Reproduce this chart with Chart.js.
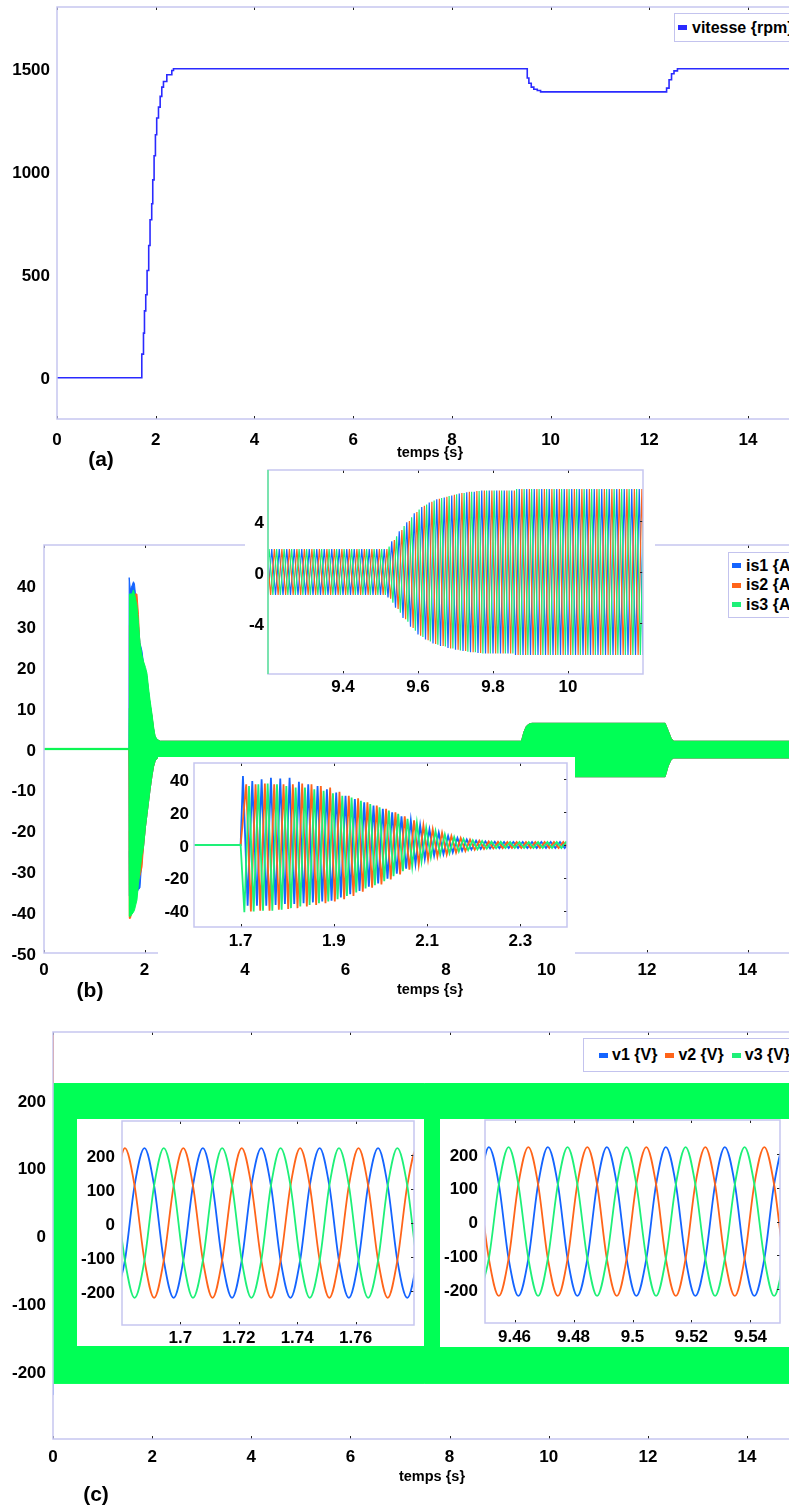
<!DOCTYPE html>
<html lang="fr">
<head>
<meta charset="utf-8">
<title>vitesse, courants, tensions</title>
<script src="https://cdn.jsdelivr.net/npm/chart.js@4.4.1/dist/chart.umd.min.js"></script>
<style>
  html, body { margin: 0; background: #fff; }
  #page { position: relative; width: 789px; height: 1506px; overflow: hidden;
          font-family: "Liberation Sans", Arial, Helvetica, sans-serif; color: #000; }
  #page canvas { position: absolute; }
  #page canvas.inset { background: #fff; }
  .txt { position: absolute; font-weight: bold; white-space: nowrap; line-height: 1; transform: translate(-50%, -50%); }
  .legend { position: absolute; box-sizing: border-box; background: #fff; border: 1px solid #c3c3ee;
            font-weight: bold; white-space: nowrap; }
  .legend span { display: inline-flex; align-items: center; }
  .legend i { display: inline-block; width: 9px; height: 5px; margin-right: 5px; }
  .legend.col span { display: flex; height: 19.5px; }
  .legend.row { display: flex; align-items: center; }
  .legend.row span { margin-right: 8px; }
  .legend.row i { margin-right: 4px; }
</style>
</head>
<body>
<div id="page">
  <canvas id="chart-a" width="810" height="470" style="left:0;top:0"></canvas>
  <canvas id="chart-b" width="810" height="530" style="left:0;top:470px"></canvas>
  <canvas id="chart-c" width="810" height="506" style="left:0;top:1000px"></canvas>
  <canvas id="chart-b1" class="inset" width="410" height="236" style="left:245px;top:464px"></canvas>
  <canvas id="chart-b2" class="inset" width="417" height="200" style="left:158px;top:757px"></canvas>
  <canvas id="chart-c1" class="inset" width="347" height="227" style="left:77px;top:1119px"></canvas>
  <canvas id="chart-c2" class="inset" width="352" height="228" style="left:440px;top:1119px"></canvas>

  <div class="legend" id="leg-a" style="left:674px;top:13px;width:140px;height:29px;padding-left:3px;font-size:16px;display:flex;align-items:center"></div>
  <div class="legend col" id="leg-b" style="left:728px;top:552px;width:90px;height:66px;padding:3px 0 0 3px;font-size:16px"></div>
  <div class="legend row" id="leg-c" style="left:583px;top:1038px;width:220px;height:34px;padding-left:15px;font-size:16px"></div>

  <div class="txt" style="left:430px;top:452px;font-size:14.5px">temps {s}</div>
  <div class="txt" style="left:430px;top:989px;font-size:14.5px">temps {s}</div>
  <div class="txt" style="left:432px;top:1476px;font-size:14.5px">temps {s}</div>
  <div class="txt" style="left:101px;top:458px;font-size:21px">(a)</div>
  <div class="txt" style="left:90px;top:989px;font-size:21px">(b)</div>
  <div class="txt" style="left:96px;top:1493px;font-size:21px">(c)</div>
</div>

<script>
// ---------- (a) vitesse ----------
const speedLabel = ['vitesse {rpm}'];
const speedTime = [0, 1.718, 1.752, 1.772, 1.798, 1.825, 1.858, 1.885, 1.919, 1.94, 1.967, 1.994, 2.02, 2.056,
  2.09, 2.123, 2.157, 2.225, 2.326, 2.36, 9.49, 9.527, 9.56, 9.608, 9.66, 9.73, 9.797, 12.33, 12.35, 12.4,
  12.45, 12.5, 12.57, 15];
const speedRpm = [0, 115, 217, 325, 403, 521, 642, 767, 845, 961, 1078, 1180, 1261, 1314,
  1366, 1411, 1438, 1471, 1492, 1500, 1500, 1455, 1430, 1411, 1401, 1395, 1388, 1388, 1406, 1447,
  1476, 1490, 1500, 1500];

const mainXTicks = [0, 2, 4, 6, 8, 10, 12, 14];
const aYTicks = [0, 500, 1000, 1500];

// ---------- (b) courants, vue d'ensemble (enveloppes) ----------
const currentLabels = ['is1 {A}', 'is2 {A}', 'is3 {A}'];
const bYTicks = [-50, -40, -30, -20, -10, 0, 10, 20, 30, 40];
const bandTime = [0, 1.69, 1.695, 1.70, 1.72, 1.75, 1.78, 1.80, 1.82, 1.85, 1.88, 1.91, 1.95, 1.98, 2.02,
  2.05, 2.08, 2.11, 2.15, 2.18, 2.21, 2.25, 2.31, 9.50, 9.55, 9.60, 9.65, 9.71, 12.36, 12.42, 12.48, 12.53, 15];
const is1Up = [0, 0, 42, 42, 39, 40, 41, 40.5, 38, 35, 30, 26, 24, 21, 19,
  17.5, 14, 11, 8, 5, 3, 2.3, 1.9, 1.9, 4.2, 5.6, 6.1, 6.3, 6.3, 4.5, 2.6, 1.9, 1.9];
const is1Lo = [0, 0, -25, -36, -37, -38, -38, -38, -37, -35, -34.5, -34, -27, -24, -19,
  -16, -13, -10, -6.5, -4.3, -3, -2.2, -2.2, -2.2, -4.5, -6, -6.5, -6.8, -6.8, -4.2, -2.6, -2.2, -2.2];
const is2Up = [0, 0, 0, 30, 37, 37, 37, 37.5, 38, 38, 33, 25, 22, 21, 19,
  17.5, 14, 11, 8, 5, 3, 2.3, 1.9, 1.9, 4.2, 5.6, 6.1, 6.3, 6.3, 4.5, 2.6, 1.9, 1.9];
const is2Lo = [0, 0, -20, -41.5, -41.5, -40, -39, -38, -37, -35, -32, -31, -29, -24, -19,
  -16, -13, -10, -6.5, -4.3, -3, -2.2, -2.2, -2.2, -4.5, -6, -6.5, -6.8, -6.8, -4.2, -2.6, -2.2, -2.2];
const is3Up = [0.15, 0.15, 10, 38, 38, 38, 39, 38, 37, 35, 31, 26, 23, 21.5, 20,
  18.5, 15, 12, 8.5, 5.5, 3.2, 2.4, 1.9, 1.9, 4.2, 5.6, 6.1, 6.3, 6.3, 4.5, 2.6, 1.9, 1.9];
const is3Lo = [-0.15, -0.15, -10, -41, -41, -40.5, -40, -39.5, -38.5, -37, -33, -30, -26, -24, -19,
  -16, -13, -10, -6.5, -4.3, -3, -2.2, -2.2, -2.2, -4.5, -6, -6.5, -6.8, -6.8, -4.2, -2.6, -2.2, -2.2];

// ---------- (b) zoom 9.2 - 10.2 s (crêtes successives) ----------
const b1XTicks = [9.4, 9.6, 9.8, 10];
const b1YTicks = [-4, 0, 4];
const b1Is1T = [9.19,9.2,9.21,9.22,9.23,9.24,9.25,9.26,9.27,9.28,9.29,9.3,9.31,9.32,9.33,9.34,9.35,9.36,9.37,9.38,
  9.39,9.4,9.41,9.42,9.43,9.44,9.45,9.46,9.47,9.48,9.49,9.5,9.51,9.52,9.53,9.54,9.55,9.56,9.57,9.58,
  9.59,9.6,9.61,9.62,9.63,9.64,9.65,9.66,9.67,9.68,9.69,9.7,9.71,9.72,9.73,9.74,9.75,9.76,9.77,9.78,
  9.79,9.8,9.81,9.82,9.83,9.84,9.85,9.86,9.87,9.88,9.89,9.9,9.91,9.92,9.93,9.94,9.95,9.96,9.97,9.98,
  9.99,10,10.01,10.02,10.03,10.04,10.05,10.06,10.07,10.08,10.09,10.1,10.11,10.12,10.13,10.14,10.15,10.16,10.17,10.18,
  10.19,10.2,10.21];
const b1Is3T = [9.193,9.203,9.213,9.223,9.233,9.243,9.253,9.263,9.273,9.283,9.293,9.303,9.313,9.323,9.333,9.343,9.353,9.363,9.373,9.383,
  9.393,9.403,9.413,9.423,9.433,9.443,9.453,9.463,9.473,9.483,9.493,9.503,9.513,9.523,9.533,9.543,9.553,9.563,9.573,9.583,
  9.593,9.603,9.613,9.623,9.633,9.643,9.653,9.663,9.673,9.683,9.693,9.703,9.713,9.723,9.733,9.743,9.753,9.763,9.773,9.783,
  9.793,9.803,9.813,9.823,9.833,9.843,9.853,9.863,9.873,9.883,9.893,9.903,9.913,9.923,9.933,9.943,9.953,9.963,9.973,9.983,
  9.993,10.003,10.013,10.023,10.033,10.043,10.053,10.063,10.073,10.083,10.093,10.103,10.113,10.123,10.133,10.143,10.153,10.163,10.173,10.183,
  10.193,10.203,10.213];
const b1Is2T = [9.197,9.207,9.217,9.227,9.237,9.247,9.257,9.267,9.277,9.287,9.297,9.307,9.317,9.327,9.337,9.347,9.357,9.367,9.377,9.387,
  9.397,9.407,9.417,9.427,9.437,9.447,9.457,9.467,9.477,9.487,9.497,9.507,9.517,9.527,9.537,9.547,9.557,9.567,9.577,9.587,
  9.597,9.607,9.617,9.627,9.637,9.647,9.657,9.667,9.677,9.687,9.697,9.707,9.717,9.727,9.737,9.747,9.757,9.767,9.777,9.787,
  9.797,9.807,9.817,9.827,9.837,9.847,9.857,9.867,9.877,9.887,9.897,9.907,9.917,9.927,9.937,9.947,9.957,9.967,9.977,9.987,
  9.997,10.007,10.017,10.027,10.037,10.047,10.057,10.067,10.077,10.087,10.097,10.107,10.117,10.127,10.137,10.147,10.157,10.167,10.177,10.187,
  10.197,10.207,10.217];
const b1Is1 = [1.8,-1.8,1.8,-1.8,1.8,-1.8,1.8,-1.8,1.8,-1.8,1.8,-1.8,1.8,-1.8,1.8,-1.8,1.8,-1.8,1.8,-1.8,
  1.8,-1.8,1.8,-1.8,1.8,-1.8,1.8,-1.8,1.8,-1.8,1.8,-1.8,1.8,-2.0,2.4,-2.8,3.2,-3.6,3.9,-4.3,
  4.6,-4.9,5.1,-5.3,5.45,-5.6,5.7,-5.8,5.85,-5.95,6.0,-6.1,6.15,-6.2,6.25,-6.3,6.3,-6.35,6.4,-6.4,
  6.4,-6.4,6.4,-6.4,6.4,-6.4,6.4,-6.5,6.5,-6.5,6.5,-6.5,6.5,-6.5,6.5,-6.5,6.5,-6.5,6.5,-6.5,
  6.5,-6.5,6.5,-6.5,6.5,-6.5,6.5,-6.5,6.5,-6.5,6.5,-6.5,6.5,-6.5,6.5,-6.5,6.5,-6.5,6.5,-6.5,
  6.5,-6.5,6.5];
const b1Is3 = [-1.8,1.8,-1.8,1.8,-1.8,1.8,-1.8,1.8,-1.8,1.8,-1.8,1.8,-1.8,1.8,-1.8,1.8,-1.8,1.8,-1.8,1.8,
  -1.8,1.8,-1.8,1.8,-1.8,1.8,-1.8,1.8,-1.8,1.8,-1.8,1.8,-1.8,2.0,-2.4,2.8,-3.2,3.6,-3.9,4.3,
  -4.6,4.9,-5.1,5.3,-5.45,5.6,-5.7,5.8,-5.85,5.95,-6.0,6.1,-6.15,6.2,-6.25,6.3,-6.3,6.35,-6.4,6.4,
  -6.4,6.4,-6.4,6.4,-6.4,6.4,-6.4,6.5,-6.5,6.5,-6.5,6.5,-6.5,6.5,-6.5,6.5,-6.5,6.5,-6.5,6.5,
  -6.5,6.5,-6.5,6.5,-6.5,6.5,-6.5,6.5,-6.5,6.5,-6.5,6.5,-6.5,6.5,-6.5,6.5,-6.5,6.5,-6.5,6.5,
  -6.5,6.5,-6.5];
const b1Is2 = [1.8,-1.8,1.8,-1.8,1.8,-1.8,1.8,-1.8,1.8,-1.8,1.8,-1.8,1.8,-1.8,1.8,-1.8,1.8,-1.8,1.8,-1.8,
  1.8,-1.8,1.8,-1.8,1.8,-1.8,1.8,-1.8,1.8,-1.8,1.8,-1.8,1.8,-2.1,2.5,-2.9,3.3,-3.7,4.0,-4.4,
  4.7,-5.0,5.2,-5.35,5.5,-5.65,5.75,-5.8,5.9,-6.0,6.05,-6.1,6.2,-6.2,6.3,-6.3,6.35,-6.35,6.4,-6.4,
  6.4,-6.4,6.4,-6.4,6.4,-6.4,6.4,-6.5,6.5,-6.5,6.5,-6.5,6.5,-6.5,6.5,-6.5,6.5,-6.5,6.5,-6.5,
  6.5,-6.5,6.5,-6.5,6.5,-6.5,6.5,-6.5,6.5,-6.5,6.5,-6.5,6.5,-6.5,6.5,-6.5,6.5,-6.5,6.5,-6.5,
  6.5,-6.5,6.5];

// ---------- (b) zoom 1.6 - 2.4 s (démarrage) ----------
const b2XTicks = [1.7, 1.9, 2.1, 2.3];
const b2YTicks = [-40, -20, 0, 20, 40];
const b2Is1T = [1.6,1.7,1.705,1.715,1.725,1.735,1.745,1.755,1.765,1.775,1.785,1.795,
  1.805,1.815,1.825,1.835,1.845,1.855,1.865,1.875,1.885,1.895,1.905,1.915,1.925,1.935,1.945,1.955,1.965,1.975,1.985,1.995,
  2.005,2.015,2.025,2.035,2.045,2.055,2.065,2.075,2.085,2.095,2.105,2.115,2.125,2.135,2.145,2.155,2.165,2.175,2.185,2.195,
  2.205,2.215,2.225,2.235,2.245,2.255,2.265,2.275,2.285,2.295,2.305,2.315,2.325,2.335,2.345,2.355,2.365,2.375,2.385,2.395,2.405];
const b2Is3T = [1.6,1.7,1.708,1.718,1.728,1.738,1.748,1.758,1.768,1.778,1.788,1.798,
  1.808,1.818,1.828,1.838,1.848,1.858,1.868,1.878,1.888,1.898,1.908,1.918,1.928,1.938,1.948,1.958,1.968,1.978,1.988,1.998,
  2.008,2.018,2.028,2.038,2.048,2.058,2.068,2.078,2.088,2.098,2.108,2.118,2.128,2.138,2.148,2.158,2.168,2.178,2.188,2.198,
  2.208,2.218,2.228,2.238,2.248,2.258,2.268,2.278,2.288,2.298,2.308,2.318,2.328,2.338,2.348,2.358,2.368,2.378,2.388,2.398,2.408];
const b2Is2T = [1.6,1.7,1.712,1.722,1.732,1.742,1.752,1.762,1.772,1.782,1.792,1.802,
  1.812,1.822,1.832,1.842,1.852,1.862,1.872,1.882,1.892,1.902,1.912,1.922,1.932,1.942,1.952,1.962,1.972,1.982,1.992,2.002,
  2.012,2.022,2.032,2.042,2.052,2.062,2.072,2.082,2.092,2.102,2.112,2.122,2.132,2.142,2.152,2.162,2.172,2.182,2.192,2.202,
  2.212,2.222,2.232,2.242,2.252,2.262,2.272,2.282,2.292,2.302,2.312,2.322,2.332,2.342,2.352,2.362,2.372,2.382,2.392,2.402,2.412];
const b2Is1 = [0,0,
  42,-37,39,-37,40,-37,41,-36.5,40.5,-36,
  41,-36,38.5,-35.5,37,-35,36,-34.5,34,-34,
  32,-32,30,-30,28,-28,26,-25.5,24,-23.5,
  22,-20.5,20,-17.5,17.5,-14.5,15,-11.5,12,-8.5,
  9.5,-6.5,7.5,-5.5,5.5,-4.5,4.2,-3.5,3.3,-2.8,
  2.6,-2.4,2.2,-2.1,2.0,-1.9,1.9,-1.9,1.9,-1.9,
  1.9,-1.9,1.9,-1.9,1.9,-1.9,1.9,-1.9,1.9,-1.9,
  1.9];
const b2Is3 = [0,0,
  -41,36,-40.5,37,-40,37.5,-40,37,-39.5,36,
  -38.5,35,-37.5,35,-36.5,34,-35.5,33,-34.5,31.5,
  -33,30,-31,29,-29,27,-26.5,25,-24.5,23,
  -22,21,-19,19,-16,16,-13,13.5,-10,10.5,
  -7.5,8.5,-6,6.5,-5,4.8,-4,3.7,-3.1,2.9,
  -2.6,2.4,-2.2,2.1,-2.0,1.9,-1.9,1.9,-1.9,1.9,
  -1.9,1.9,-1.9,1.9,-1.9,1.9,-1.9,1.9,-1.9,1.9,
  -1.9];
const b2Is2 = [0,0,
  37,-40.5,37,-40,37.5,-40,37,-39.5,37,-39,
  37,-38.5,37.5,-37.5,37,-36.5,36,-35.5,35,-34.5,
  32.5,-33,30,-31,28.5,-28.5,26,-26,24,-24,
  22,-21,20,-18,17.5,-15,15,-12,12,-9,
  9.5,-7,7.5,-5.8,5.5,-4.6,4.2,-3.6,3.3,-2.9,
  2.6,-2.4,2.2,-2.1,2.0,-1.9,1.9,-1.9,1.9,-1.9,
  1.9,-1.9,1.9,-1.9,1.9,-1.9,1.9,-1.9,1.9,-1.9,
  1.9];

// ---------- (c) tensions, vue d'ensemble (enveloppes) ----------
const voltageLabels = ['v1 {V}', 'v2 {V}', 'v3 {V}'];
const cYTicks = [-200, -100, 0, 100, 200];
const vTime = [0, 0.002, 15];
const v1Up = [222, 222, 222];
const v1Lo = [-235, -216, -216];
const v2Up = [320, 222, 222];
const v2Lo = [-216, -216, -216];
const v3Up = [224, 224, 224];
const v3Lo = [-218, -218, -218];

// ---------- (c) zoom 1.68 - 1.78 s ----------
const c1XTicks = [1.7, 1.72, 1.74, 1.76];
const c1Time = [1.6777,1.681,1.6843,1.6877,1.691,1.6943,1.6977,1.701,1.7043,1.7077,1.711,1.7143,1.7177,1.721,1.7243,1.7277,
  1.731,1.7343,1.7377,1.741,1.7443,1.7477,1.751,1.7543,1.7577,1.761,1.7643,1.7677,1.771,1.7743,1.7777,1.781,1.7843];
const c1V1 = [-220,-110,110,220,110,-110,-220,-110,110,220,110,-110,-220,-110,110,220,110,-110,
  -220,-110,110,220,110,-110,-220,-110,110,220,110,-110,-220,-110,110];
const c1V2 = [110,220,110,-110,-220,-110,110,220,110,-110,-220,-110,110,220,110,-110,-220,-110,
  110,220,110,-110,-220,-110,110,220,110,-110,-220,-110,110,220,110];
const c1V3 = [110,-110,-220,-110,110,220,110,-110,-220,-110,110,220,110,-110,-220,-110,110,220,
  110,-110,-220,-110,110,220,110,-110,-220,-110,110,220,110,-110,-220];

// ---------- (c) zoom 9.45 - 9.55 s ----------
const c2XTicks = [9.46, 9.48, 9.5, 9.52, 9.54];
const c2Time = [9.448,9.4513,9.4547,9.458,9.4613,9.4647,9.468,9.4713,9.4747,9.478,9.4813,9.4847,9.488,9.4913,9.4947,9.498,
  9.5013,9.5047,9.508,9.5113,9.5147,9.518,9.5213,9.5247,9.528,9.5313,9.5347,9.538,9.5413,9.5447,9.548,9.5513,9.5547];
const c2V1 = [110,220,110,-110,-220,-110,110,220,110,-110,-220,-110,110,220,110,-110,-220,-110,
  110,220,110,-110,-220,-110,110,220,110,-110,-220,-110,110,220,110];
const c2V2 = [110,-110,-220,-110,110,220,110,-110,-220,-110,110,220,110,-110,-220,-110,110,220,
  110,-110,-220,-110,110,220,110,-110,-220,-110,110,220,110,-110,-220];
const c2V3 = [-220,-110,110,220,110,-110,-220,-110,110,220,110,-110,-220,-110,110,220,110,-110,
  -220,-110,110,220,110,-110,-220,-110,110,220,110,-110,-220,-110,110];

// ---------- styles ----------
const SPEED = '#2a2aff';
const BLUE = '#1464ff';
const ORANGE = '#ff6419';
const GREEN = '#1ef078';
const BAND = '#00ff55';
const FRAME = '#c6c6f0';
const tickFont = { family: '"Liberation Sans", Arial, sans-serif', size: 17, weight: 'bold' };

const pts = (t, v) => t.map((x, i) => ({ x, y: v[i] }));

function line(t, v, color, width, extra) {
  return Object.assign({ data: pts(t, v), borderColor: color, borderWidth: width, pointRadius: 0, fill: false }, extra);
}

// enveloppe d'une oscillation trop dense pour être lisible : surface entre haut et bas
function band(t, up, lo, color) {
  return [
    { data: pts(t, up), borderColor: color, backgroundColor: color, borderWidth: 1, pointRadius: 0, fill: '+1' },
    { data: pts(t, lo), borderColor: color, borderWidth: 1, pointRadius: 0, fill: false },
  ];
}

// cadre lavande + petites graduations intérieures
const frame = {
  id: 'frame',
  afterDatasetsDraw(chart, args, opts) {
    const { ctx, chartArea: a, scales: { x, y } } = chart;
    ctx.save();
    ctx.lineWidth = 1;
    ctx.strokeStyle = '#222';
    ctx.beginPath();
    x.ticks.forEach((t) => {
      const px = Math.round(x.getPixelForValue(t.value)) + 0.5;
      ctx.moveTo(px, a.top); ctx.lineTo(px, a.top + 3);
      ctx.moveTo(px, a.bottom); ctx.lineTo(px, a.bottom - 3);
    });
    if (opts.rightTicks) {
      y.ticks.forEach((t) => {
        const py = Math.round(y.getPixelForValue(t.value)) + 0.5;
        ctx.moveTo(a.right, py); ctx.lineTo(a.right - 3, py);
      });
    }
    ctx.stroke();
    ctx.lineWidth = 1.5;
    ctx.strokeStyle = FRAME;
    ctx.strokeRect(a.left, a.top, a.width, a.height);
    if (opts.leftEdge) {
      ctx.strokeStyle = opts.leftEdge;
      ctx.beginPath();
      ctx.moveTo(a.left, a.top); ctx.lineTo(a.left, a.bottom);
      ctx.stroke();
    }
    ctx.restore();
  },
};

function axis(min, max, ticks, size, pad, horiz) {
  return {
    type: 'linear', min, max,
    grid: { display: false, drawTicks: false },
    border: { display: false },
    afterBuildTicks: (s) => { s.ticks = ticks.map((v) => ({ value: v })); },
    afterFit: (s) => {
      if (horiz) { s.height = size; s.paddingLeft = 0; s.paddingRight = 0; }
      else { s.width = size; s.paddingTop = 0; s.paddingBottom = 0; }
    },
    ticks: {
      padding: pad, autoSkip: false, maxRotation: 0, color: '#000', font: tickFont,
      labelOffset: horiz ? 0 : 2,
      callback: (v) => String(v),
    },
  };
}

function makeChart(id, c) {
  return new Chart(document.getElementById(id), {
    type: 'line',
    data: { datasets: c.datasets },
    options: {
      responsive: false,
      animation: false,
      devicePixelRatio: 1,
      events: [],
      layout: { padding: { top: c.top, right: c.right, left: 0, bottom: 0 } },
      plugins: { legend: { display: false }, tooltip: { enabled: false }, frame: c.frame || {} },
      scales: {
        x: axis(c.x[0], c.x[1], c.xTicks, c.xH, c.xPad, true),
        y: axis(c.y[0], c.y[1], c.yTicks, c.yW, c.yPad, false),
      },
    },
    plugins: [frame],
  });
}

// (a)
makeChart('chart-a', {
  datasets: [line(speedTime, speedRpm, SPEED, 1.6, { stepped: 'before' })],
  x: [0, 15], xTicks: mainXTicks, xH: 51, xPad: 11,
  y: [-200, 1800], yTicks: aYTicks, yW: 57, yPad: 7,
  top: 7, right: 12.6,
});

// (b)
makeChart('chart-b', {
  datasets: [
    ...band(bandTime, is3Up, is3Lo, BAND),
    ...band(bandTime, is2Up, is2Lo, ORANGE),
    ...band(bandTime, is1Up, is1Lo, BLUE),
  ],
  x: [0, 15], xTicks: mainXTicks, xH: 47, xPad: 7,
  y: [-50, 50], yTicks: bYTicks, yW: 44, yPad: 8,
  top: 75, right: 12.2,
});

makeChart('chart-b1', {
  datasets: [
    line(b1Is3T, b1Is3, GREEN, 1.2),
    line(b1Is2T, b1Is2, ORANGE, 1.2),
    line(b1Is1T, b1Is1, BLUE, 1.2),
  ],
  x: [9.2, 10.2], xTicks: b1XTicks, xH: 26, xPad: 3,
  y: [-8, 8], yTicks: b1YTicks, yW: 23, yPad: 4,
  top: 6, right: 12,
  frame: { rightTicks: true, leftEdge: '#5ee89a' },
});

makeChart('chart-b2', {
  datasets: [
    line(b2Is3T, b2Is3, GREEN, 1.8),
    line(b2Is2T, b2Is2, ORANGE, 1.8),
    line(b2Is1T, b2Is1, BLUE, 1.8),
  ],
  x: [1.6, 2.4], xTicks: b2XTicks, xH: 30, xPad: 4,
  y: [-50, 50], yTicks: b2YTicks, yW: 36, yPad: 5,
  top: 6, right: 8,
  frame: { rightTicks: true },
});

// (c)
makeChart('chart-c', {
  datasets: [
    ...band(vTime, v3Up, v3Lo, BAND),
    ...band(vTime, v2Up, v2Lo, ORANGE),
    ...band(vTime, v1Up, v1Lo, BLUE),
  ],
  x: [0, 15], xTicks: mainXTicks, xH: 67, xPad: 8,
  y: [-300, 300], yTicks: cYTicks, yW: 53, yPad: 7,
  top: 32, right: 13.4,
});

const smooth = { cubicInterpolationMode: 'monotone' };
makeChart('chart-c1', {
  datasets: [
    line(c1Time, c1V3, GREEN, 1.8, smooth),
    line(c1Time, c1V2, ORANGE, 1.8, smooth),
    line(c1Time, c1V1, BLUE, 1.8, smooth),
  ],
  x: [1.68, 1.78], xTicks: c1XTicks, xH: 21, xPad: 3,
  y: [-300, 300], yTicks: cYTicks, yW: 45, yPad: 7,
  top: 2, right: 10,
  frame: { rightTicks: true },
});

makeChart('chart-c2', {
  datasets: [
    line(c2Time, c2V3, GREEN, 1.8, smooth),
    line(c2Time, c2V2, ORANGE, 1.8, smooth),
    line(c2Time, c2V1, BLUE, 1.8, smooth),
  ],
  x: [9.45, 9.55], xTicks: c2XTicks, xH: 24, xPad: 4,
  y: [-300, 300], yTicks: cYTicks, yW: 45, yPad: 7,
  top: 1, right: 12,
  frame: { rightTicks: true },
});

// légendes
function legend(id, labels, colors) {
  const box = document.getElementById(id);
  labels.forEach((txt, i) => {
    const item = document.createElement('span');
    const mark = document.createElement('i');
    mark.style.background = colors[i];
    item.appendChild(mark);
    item.appendChild(document.createTextNode(txt));
    box.appendChild(item);
  });
}
legend('leg-a', speedLabel, [SPEED]);
legend('leg-b', currentLabels, [BLUE, ORANGE, GREEN]);
legend('leg-c', voltageLabels, [BLUE, ORANGE, GREEN]);
</script>
</body>
</html>
